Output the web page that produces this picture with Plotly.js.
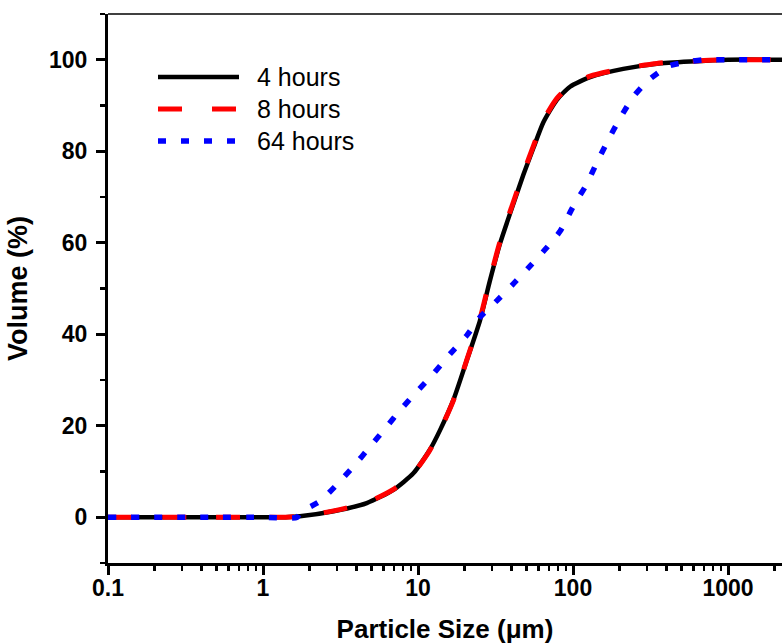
<!DOCTYPE html>
<html><head><meta charset="utf-8">
<script src="https://cdn.plot.ly/plotly-3.0.1.min.js"></script>
<style>html,body{margin:0;padding:0;background:#fff}</style>
</head><body><div id="chart" style="width:782px;height:644px"></div>
<script>
// Particle size (µm) and cumulative volume (%)
const x4h = [0.1, 0.5, 1.0, 1.4, 1.73, 2.85, 4.67, 6.94, 9.33, 11.9, 13.9, 16.9, 20.6, 25.1, 29.0, 33.8, 42.3, 47.9, 55.5, 64.3, 78.5, 95.7, 129, 211, 347, 569, 1000, 2500];
const y4h = [0, 0, 0, 0, 0.2, 1.3, 3.1, 6.0, 9.6, 14.7, 19.1, 25.6, 34.2, 43.0, 51.5, 59.8, 69.6, 74.9, 80.7, 86.3, 91.2, 94.1, 96.2, 98.0, 99.1, 99.6, 100, 100];
const x8h = [0.1, 0.5, 1.0, 1.4, 1.73, 2.85, 4.67, 6.94, 9.33, 11.9, 13.9, 16.9, 20.6, 25.1, 29.0, 33.8, 42.3, 47.9, 55.5, 64.3, 78.5, 95.7, 129, 211, 347, 569, 1000, 2500];
const y8h = [0, 0, 0, 0, 0.2, 1.4, 3.2, 6.1, 9.6, 14.6, 19.0, 25.5, 34.3, 43.3, 51.8, 60.2, 70.0, 75.3, 81.1, 86.7, 91.5, 94.3, 96.4, 98.1, 99.2, 99.7, 100, 100];
const x64h = [0.1, 0.5, 1.0, 1.66, 1.73, 2.33, 2.99, 3.83, 4.90, 6.28, 7.66, 9.8, 12.6, 16.1, 20.6, 25.1, 32.2, 41.2, 52.8, 67.6, 82.5, 100.5, 122, 142, 169, 201, 245, 306, 412, 541, 700, 1000, 2500];
const y64h = [0, 0, 0, 0, 1.0, 3.5, 7.1, 11.1, 15.4, 19.8, 23.4, 27.4, 31.4, 35.7, 39.7, 43.7, 47.3, 51.0, 54.9, 58.9, 62.5, 68.0, 72.7, 77.4, 82.5, 87.2, 91.9, 95.5, 98.6, 99.5, 100, 100, 100];
const seriesNames = ["4 hours", "8 hours", "64 hours"];
const xTickVals = [0.1, 1, 10, 100, 1000];
const xTickText = ["0.1", "1", "10", "100", "1000"];
const yTickVals = [0, 20, 40, 60, 80, 100];

const FONT = "Liberation Sans, Arial, sans-serif";
const traces = [
  {x: x4h, y: y4h, name: seriesNames[0], mode: "lines", line: {color: "#000000", width: 4.5, shape: "spline", smoothing: 0.6}},
  {x: x8h, y: y8h, name: seriesNames[1], mode: "lines", line: {color: "#ff0000", width: 5, dash: "24px,30px", shape: "spline", smoothing: 0.6}},
  {x: x64h, y: y64h, name: seriesNames[2], mode: "lines", line: {color: "#0000ff", width: 5.5, dash: "8px,15px", shape: "spline", smoothing: 0.6}}
];

// custom legend in pixel-derived paper coords
const L = 108, T = 14, W = 674, H = 549;
const px = v => (v - L) / W;
const py = v => (T + H - v) / H;
const legendRows = [
  {y: 77, color: "#000000", width: 4.5, dash: "solid"},
  {y: 109, color: "#ff0000", width: 5, dash: "24px,30px"},
  {y: 141, color: "#0000ff", width: 5.5, dash: "8px,15px"}
];
const shapes = [];
const annotations = [];
legendRows.forEach((r, i) => {
  shapes.push({type: "line", xref: "paper", yref: "paper", x0: px(158), x1: px(239), y0: py(r.y), y1: py(r.y),
    line: {color: r.color, width: r.width, dash: r.dash}});
  annotations.push({xref: "paper", yref: "paper", x: px(255), y: py(r.y), xanchor: "left", yanchor: "middle",
    text: seriesNames[i], showarrow: false, font: {family: FONT, size: 25, color: "#000"}});
});
// thin top frame line
shapes.push({type: "line", xref: "paper", yref: "paper", x0: 0, x1: 1, y0: 1, y1: 1, line: {color: "#000", width: 1.5}});

const layout = {
  width: 782, height: 644,
  margin: {l: L, r: 0, t: T, b: 644 - T - H},
  paper_bgcolor: "#fff", plot_bgcolor: "rgba(0,0,0,0)",
  showlegend: false,
  font: {family: FONT, color: "#000"},
  xaxis: {
    type: "log", range: [-1, -1 + W / 155],
    tickvals: xTickVals, ticktext: xTickText,
    ticks: "outside", ticklen: 9, tickwidth: 3, tickcolor: "#000",
    minor: {ticks: "outside", ticklen: 5, tickwidth: 2.5, tickcolor: "#000", dtick: "D1", showgrid: false},
    showline: true, linewidth: 3, linecolor: "#000", showgrid: false, zeroline: false,
    tickfont: {family: FONT, size: 23, weight: "bold"},
    ticklabelstandoff: -7,
    title: {text: "Particle Size (μm)", font: {family: FONT, size: 26, weight: "bold"}, standoff: 25}
  },
  yaxis: {
    range: [-10, 110], tickvals: yTickVals,
    ticks: "outside", ticklen: 9, tickwidth: 3, tickcolor: "#000",
    minor: {ticks: "outside", ticklen: 5, tickwidth: 2.5, tickcolor: "#000", dtick: 10, tick0: 0, showgrid: false},
    showline: true, linewidth: 3, linecolor: "#000", showgrid: false, zeroline: false,
    tickfont: {family: FONT, size: 23, weight: "bold"},
    ticklabelstandoff: 4,
    title: {text: "Volume (%)", font: {family: FONT, size: 27, weight: "bold"}, standoff: 14}
  },
  shapes: shapes,
  annotations: annotations
};
Plotly.newPlot("chart", traces, layout, {displayModeBar: false, staticPlot: true});
</script></body></html>
